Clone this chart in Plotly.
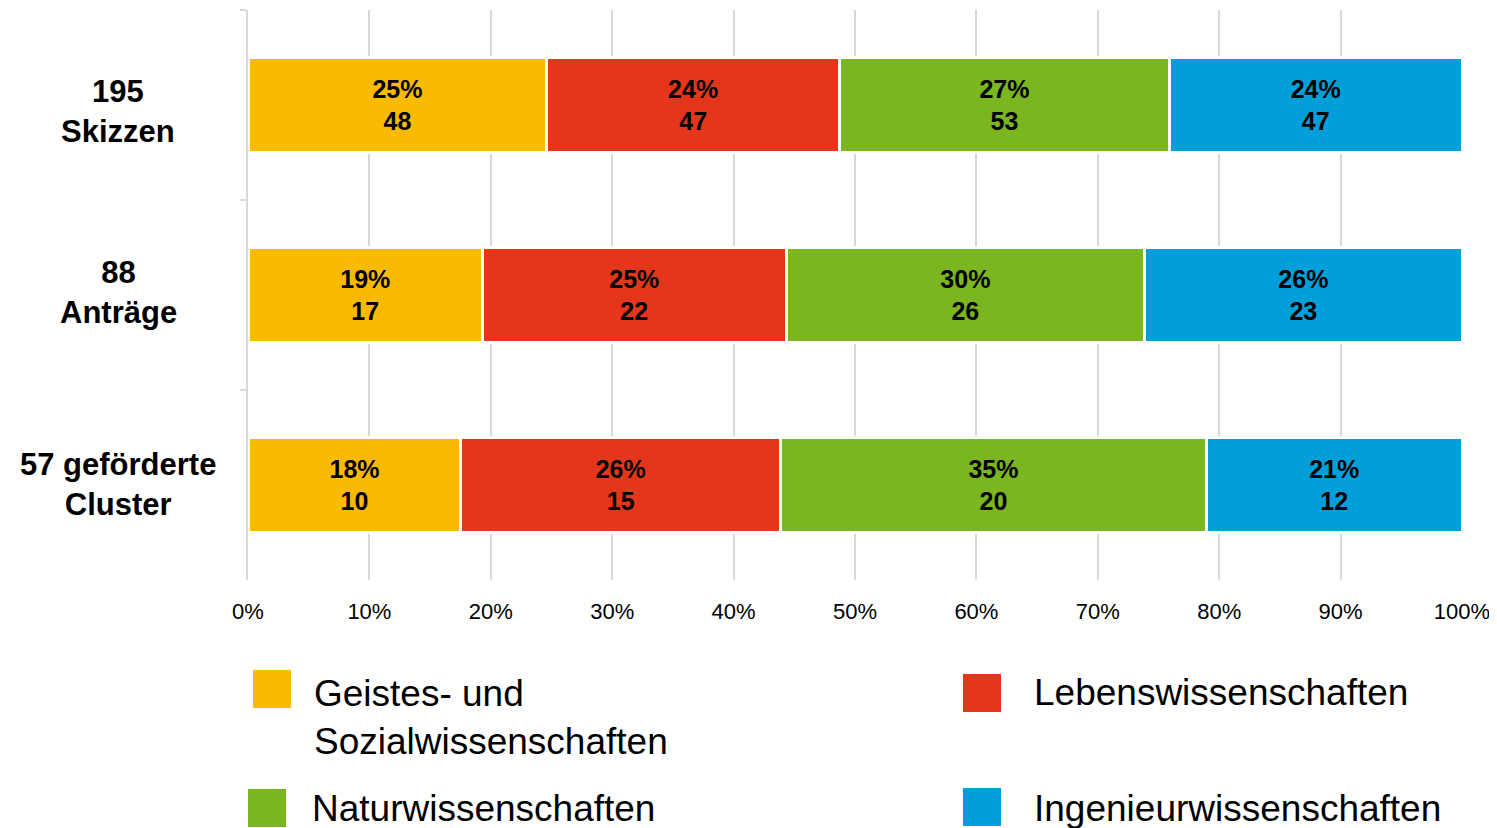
import plotly.graph_objects as go

# ---- data ----
categories = ["195<br>Skizzen", "88<br>Anträge", "57 geförderte<br>Cluster"]
disciplines = ["Geistes- und<br>Sozialwissenschaften", "Lebenswissenschaften",
               "Naturwissenschaften", "Ingenieurwissenschaften"]
geistes = [48, 17, 10]
lebens = [47, 22, 15]
natur = [53, 26, 20]
ingenieur = [47, 23, 12]
x_ticks = [0, 10, 20, 30, 40, 50, 60, 70, 80, 90, 100]
x_tick_labels = ["0%", "10%", "20%", "30%", "40%", "50%", "60%", "70%", "80%", "90%", "100%"]

series = [geistes, lebens, natur, ingenieur]
colors = ["#FABA00", "#E3361A", "#7BB51F", "#009FD9"]
totals = [sum(v) for v in zip(*series)]

W, H = 1497, 828
OFF = 8  # page body margin
L, R, T, B = 248, 1462, 10, 580  # plot area in page pixels
FONT = "Liberation Sans, Arial, sans-serif"


def px_x(px):
    return (px - L) / (R - L)


def px_y(py):
    return (B - py) / (B - T)


fig = go.Figure()
for name, vals, col in zip(disciplines, series, colors):
    pct = [v / t * 100 for v, t in zip(vals, totals)]
    txt = [f"<b>{int(p + 0.5)}%<br>{v}</b>" for p, v in zip(pct, vals)]
    fig.add_trace(go.Bar(
        y=categories, x=pct, orientation="h", name=name,
        marker=dict(color=col, line=dict(color="white", width=3)),
        text=txt, textposition="inside", insidetextanchor="middle",
        textfont=dict(family=FONT, size=25, color="black"),
        constraintext="none", showlegend=False, hoverinfo="skip",
    ))

# category labels (centered, bold)
label_shift = [-6, 3, 1]
for c, s in zip(categories, label_shift):
    fig.add_annotation(
        x=px_x(118), xref="paper", y=c, yref="y", yshift=s,
        text=f"<b>{c}</b>", showarrow=False, xanchor="center", yanchor="middle",
        align="center", font=dict(family=FONT, size=31, color="black"),
    )

# legend (large square keys)
legend_items = [
    (disciplines[0], colors[0], 253, 670, 312, 717),
    (disciplines[1], colors[1], 963, 674, 1032, 692),
    (disciplines[2], colors[2], 248, 789, 310, 808),
    (disciplines[3], colors[3], 963, 788, 1032, 808),
]
for name, col, sx, sy, tx, ty in legend_items:
    fig.add_shape(type="rect", xref="paper", yref="paper",
                  x0=px_x(sx), x1=px_x(sx + 38), y0=px_y(sy + 38), y1=px_y(sy),
                  fillcolor=col, line=dict(width=0))
    fig.add_annotation(x=px_x(tx), y=px_y(ty), xref="paper", yref="paper",
                       text=name, showarrow=False, xanchor="left", yanchor="middle",
                       align="left", font=dict(family=FONT, size=37, color="black"))

fig.update_layout(
    width=W, height=H, barmode="stack", bargap=0.5,
    margin=dict(l=L - OFF, r=W - (R - OFF), t=T - OFF, b=H - (B - OFF)),
    plot_bgcolor="white", paper_bgcolor="white",
    font=dict(family=FONT, color="black"),
    xaxis=dict(range=[0, 100], tickmode="array", tickvals=x_ticks, ticktext=x_tick_labels,
               showgrid=True, gridcolor="#D9D9D9", gridwidth=2,
               zeroline=False, showline=False, ticks="",
               tickfont=dict(family=FONT, size=22, color="black"),
               ticklabelstandoff=16),
    yaxis=dict(autorange="reversed", showticklabels=False, showgrid=False,
               showline=True, linecolor="#D9D9D9", linewidth=2,
               ticks="outside", tickson="boundaries", ticklen=6,
               tickcolor="#D9D9D9", tickwidth=2, zeroline=False),
)

fig.write_html("out.html")
